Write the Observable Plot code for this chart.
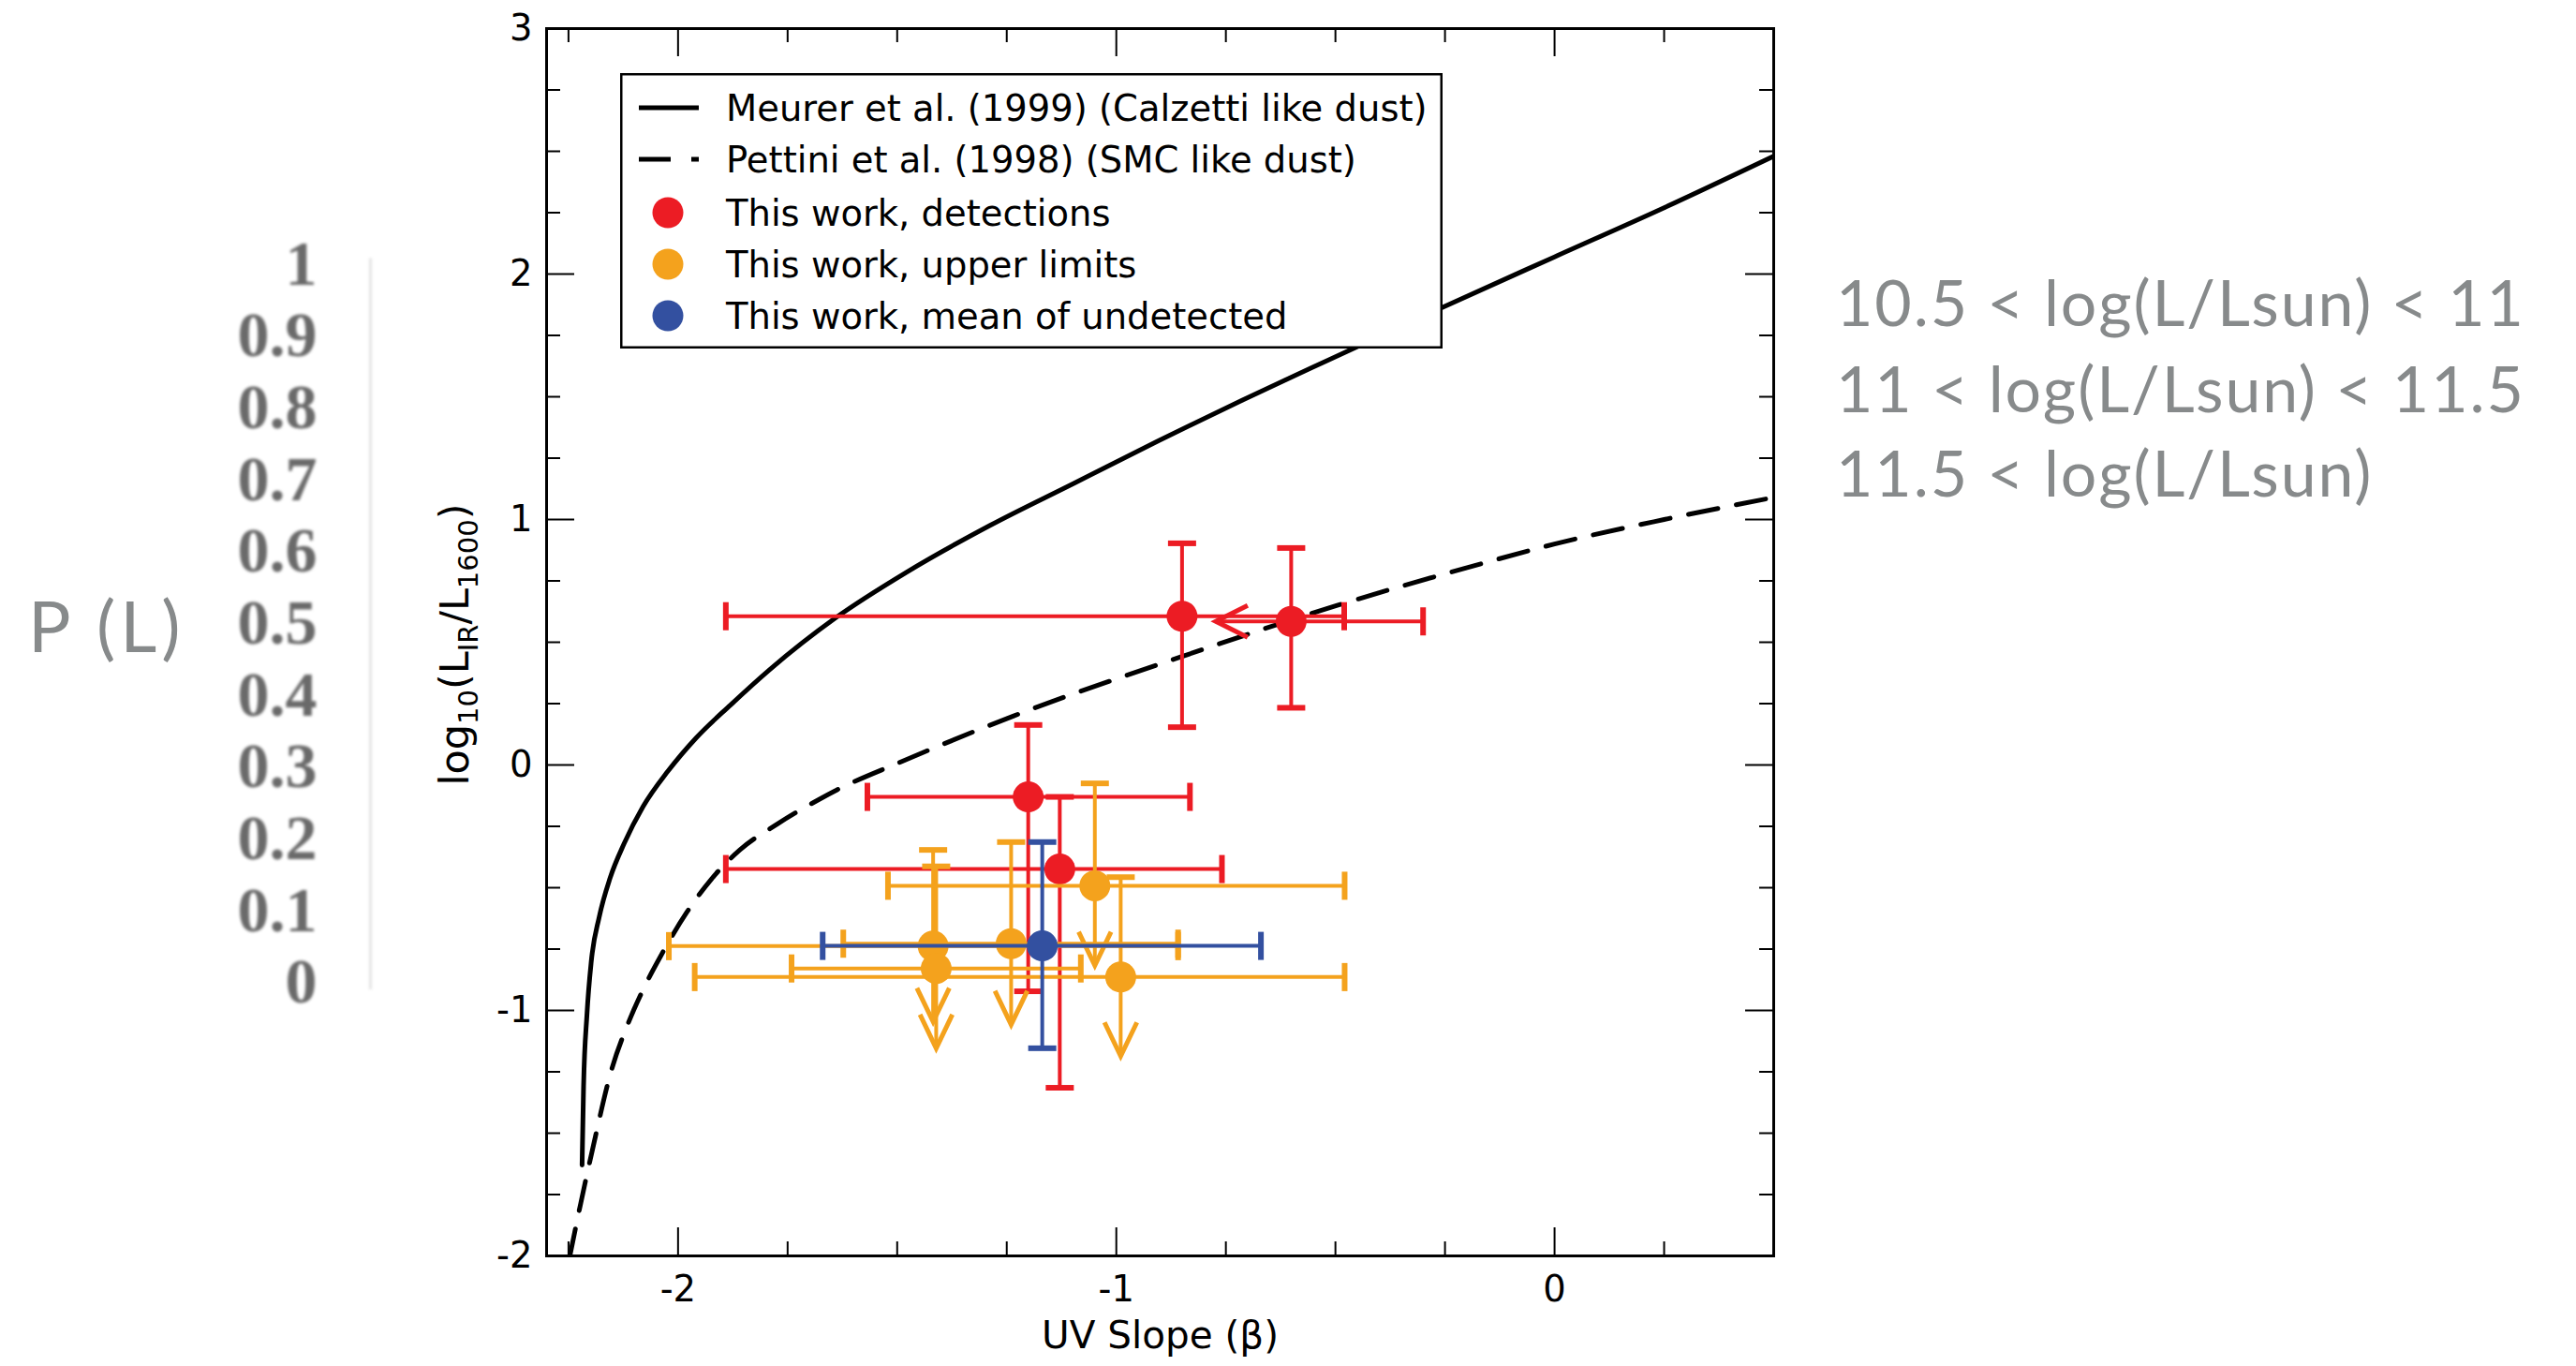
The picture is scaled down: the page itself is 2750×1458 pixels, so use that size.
<!DOCTYPE html>
<html>
<head>
<meta charset="utf-8">
<script src="https://cdn.jsdelivr.net/npm/d3@7"></script>
<script src="https://cdn.jsdelivr.net/npm/@observablehq/plot@0.6"></script>
<style>
  html, body { margin: 0; padding: 0; background: #fff; }
  #page { position: relative; width: 2750px; height: 1458px; overflow: hidden; background: #fff; }
  #page > svg { position: absolute; }
</style>
</head>
<body>
<div id="page"></div>
<script>
// ---------------- data ----------------
// Meurer et al. (1999) curve (beta, log10 LIR/L1600)
const meurerBeta = [-2.219, -2.2156, -2.208, -2.198, -2.180, -2.155, -2.123, -2.080, -2.023, -1.959, -1.88, -1.79, -1.64, -1.478, -1.287, -1.095, -0.904, -0.713, -0.552, -0.26, 0.0, 0.25, 0.5];
const meurerIRX  = [-1.63, -1.31, -1.02, -0.80, -0.62, -0.46, -0.32, -0.17, -0.025, 0.11, 0.245, 0.39, 0.60, 0.786, 0.977, 1.149, 1.321, 1.486, 1.62, 1.861, 2.07, 2.27, 2.48];
// Pettini et al. (1998) curve
const pettiniBeta = [-2.248, -2.222, -2.196, -2.151, -2.116, -2.080, -2.037, -1.98, -1.923, -1.859, -1.773, -1.68, -1.637, -1.495, -1.234, -0.853, -0.496, -0.167, 0.0, 0.25, 0.5];
const pettiniIRX  = [-2.01, -1.785, -1.573, -1.237, -1.062, -0.916, -0.770, -0.60, -0.463, -0.346, -0.24, -0.142, -0.101, 0.01, 0.20, 0.44, 0.65, 0.82, 0.90, 1.00, 1.09];

// This work, detections
const detBeta   = [-0.850, -0.601, -1.201, -1.129];
const detIRX    = [0.606, 0.585, -0.130, -0.424];
const detBetaLo = [-1.891, -0.773, -1.568, -1.891];
const detBetaHi = [-0.480, -0.300, -0.832, -0.759];
const detIRXLo  = [0.154, 0.233, -0.922, -1.315];
const detIRXHi  = [0.903, 0.884, 0.163, -0.130];
const detBetaLoIsLimit = [false, true, false, false];

// This work, upper limits
const ulBeta   = [-1.049, -0.990, -1.418, -1.411, -1.240];
const ulIRX    = [-0.492, -0.864, -0.738, -0.829, -0.728];
const ulBetaLo = [-1.521, -1.962, -2.021, -1.741, -1.623];
const ulBetaHi = [-0.479, -0.479, -0.859, -1.081, -0.859];
const ulIRXHi  = [-0.075, -0.457, -0.346, -0.413, -0.314];
const ulArrow  = [-0.817, -1.186, -1.046, -1.154, -1.058];

// This work, mean of undetected
const mnBeta = [-1.169];
const mnIRX = [-0.737];
const mnBetaLo = [-1.670];
const mnBetaHi = [-0.670];
const mnIRXLo = [-1.154];
const mnIRXHi = [-0.314];

// ticks
const xMajor = [-2, -1, 0];
const xMinor = [-2.25, -1.75, -1.5, -1.25, -0.75, -0.5, -0.25, 0.25];
const yMajor = [-2, -1, 0, 1, 2, 3];
const yMinor = [-1.75, -1.5, -1.25, -0.75, -0.5, -0.25, 0.25, 0.5, 0.75, 1.25, 1.5, 1.75, 2.25, 2.5, 2.75];
const pTicks = [0, 0.1, 0.2, 0.3, 0.4, 0.5, 0.6, 0.7, 0.8, 0.9, 1];

const xTitle = "UV Slope (β)";
const legendLabels = [
  "Meurer et al. (1999) (Calzetti like dust)",
  "Pettini et al. (1998) (SMC like dust)",
  "This work, detections",
  "This work, upper limits",
  "This work, mean of undetected"
];
const legendKinds = ["solid", "dashed", "dot", "dot", "dot"];
const pLabel = "P (L)";
const rightLabels = ["10.5 < log(L/Lsun) < 11", "11 < log(L/Lsun) < 11.5", "11.5 < log(L/Lsun)"];

// ---------------- styles ----------------
const RED = "#ec1c24", ORANGE = "#f4a21d", BLUE = "#3350a0";
const legendColors = ["#000", "#000", RED, ORANGE, BLUE];
const FONT = "'DejaVu Sans', 'Liberation Sans', sans-serif";
const FS = 38.5;
const GRAY = "#878a8b";

const W = 2750, H = 1458;
const mL = 583, mR = W - 1893, mT = 30, mB = H - 1340;
const frameW = W - mL - mR, frameH = H - mT - mB;

// custom symbols
const rad = size => Math.sqrt(size / Math.PI);
const capH = {draw(ctx, size) { const r = rad(size); ctx.moveTo(-r, 0); ctx.lineTo(r, 0); }};
const capV = {draw(ctx, size) { const r = rad(size); ctx.moveTo(0, -r); ctx.lineTo(0, r); }};
const arrowDown = {draw(ctx, size) { const r = rad(size); ctx.moveTo(-0.48 * r, -r); ctx.lineTo(0, 0); ctx.lineTo(0.48 * r, -r); }};
const arrowLeft = {draw(ctx, size) { const r = rad(size); ctx.moveTo(r, -0.5 * r); ctx.lineTo(0, 0); ctx.lineTo(r, 0.5 * r); }};

// tables
const meurer = meurerBeta.map((b, i) => ({b, v: meurerIRX[i]}));
const pettini = pettiniBeta.map((b, i) => ({b, v: pettiniIRX[i]}));
const det = detBeta.map((b, i) => ({b, v: detIRX[i], bLo: detBetaLo[i], bHi: detBetaHi[i], vLo: detIRXLo[i], vHi: detIRXHi[i], lim: detBetaLoIsLimit[i]}));
const ul = ulBeta.map((b, i) => ({b, v: ulIRX[i], bLo: ulBetaLo[i], bHi: ulBetaHi[i], vHi: ulIRXHi[i], tip: ulArrow[i]}));
const mn = mnBeta.map((b, i) => ({b, v: mnIRX[i], bLo: mnBetaLo[i], bHi: mnBetaHi[i], vLo: mnIRXLo[i], vHi: mnIRXHi[i]}));

const BAR = 4, CAP = 6, CAPR = 15, DOTR = 16.5;
const fmt = d => d < 0 ? "-" + (-d) : String(d);

function errGroup(data, color, opts) {
  const marks = [];
  if (opts.vertLo) marks.push(Plot.ruleX(data, {x: "b", y1: opts.vertLo, y2: "vHi", stroke: color, strokeWidth: BAR}));
  marks.push(Plot.ruleY(data, {y: "v", x1: "bLo", x2: "bHi", stroke: color, strokeWidth: BAR}));
  marks.push(Plot.dot(data, {x: "b", y: "vHi", symbol: capH, r: CAPR, fill: "none", stroke: color, strokeWidth: CAP}));
  if (opts.capLo) marks.push(Plot.dot(data, {x: "b", y: "vLo", symbol: capH, r: CAPR, fill: "none", stroke: color, strokeWidth: CAP}));
  if (opts.arrow) marks.push(Plot.dot(data, {x: "b", y: "tip", symbol: arrowDown, r: 36, fill: "none", stroke: color, strokeWidth: 5}));
  const leftCaps = opts.limKey ? data.filter(d => !d[opts.limKey]) : data;
  marks.push(Plot.dot(leftCaps, {x: "bLo", y: "v", symbol: capV, r: CAPR, fill: "none", stroke: color, strokeWidth: CAP}));
  if (opts.limKey) marks.push(Plot.dot(data.filter(d => d[opts.limKey]), {x: "bLo", y: "v", symbol: arrowLeft, r: 34, fill: "none", stroke: color, strokeWidth: 5}));
  marks.push(Plot.dot(data, {x: "bHi", y: "v", symbol: capV, r: CAPR, fill: "none", stroke: color, strokeWidth: CAP}));
  marks.push(Plot.dot(data, {x: "b", y: "v", r: DOTR, fill: color, stroke: "none"}));
  return marks;
}

const main = Plot.plot({
  width: W, height: H,
  marginLeft: mL, marginRight: mR, marginTop: mT, marginBottom: mB,
  style: {fontFamily: FONT, fontSize: FS + "px", background: "#fff", color: "#000", overflow: "visible"},
  x: {domain: [-2.3, 0.5], ticks: xMajor, tickSize: 0, tickPadding: 21, tickFormat: fmt, label: null},
  y: {domain: [-2, 3], ticks: yMajor, tickSize: 0, tickPadding: 15, tickFormat: fmt, label: null},
  marks: [
    Plot.line(meurer, {x: "b", y: "v", stroke: "#000", strokeWidth: 5, curve: "monotone-x", clip: true}),
    Plot.line(pettini, {x: "b", y: "v", stroke: "#000", strokeWidth: 5, strokeDasharray: "32,20", curve: "monotone-x", clip: true}),
    // inward ticks on all four sides
    Plot.tickX(xMajor, {x: d => d, insetTop: frameH - 30, stroke: "#000", strokeWidth: 2}),
    Plot.tickX(xMinor, {x: d => d, insetTop: frameH - 15, stroke: "#000", strokeWidth: 2}),
    Plot.tickX(xMajor, {x: d => d, insetBottom: frameH - 30, stroke: "#000", strokeWidth: 2}),
    Plot.tickX(xMinor, {x: d => d, insetBottom: frameH - 15, stroke: "#000", strokeWidth: 2}),
    Plot.tickY(yMajor, {y: d => d, insetRight: frameW - 30, stroke: "#000", strokeWidth: 2}),
    Plot.tickY(yMinor, {y: d => d, insetRight: frameW - 15, stroke: "#000", strokeWidth: 2}),
    Plot.tickY(yMajor, {y: d => d, insetLeft: frameW - 30, stroke: "#000", strokeWidth: 2}),
    Plot.tickY(yMinor, {y: d => d, insetLeft: frameW - 15, stroke: "#000", strokeWidth: 2}),
    Plot.frame({stroke: "#000", strokeWidth: 3}),
    ...errGroup(det, RED, {vertLo: "vLo", capLo: true, limKey: "lim"}),
    ...errGroup(ul, ORANGE, {vertLo: "tip", arrow: true}),
    ...errGroup(mn, BLUE, {vertLo: "vLo", capLo: true}),
    Plot.text([xTitle], {text: d => d, frameAnchor: "bottom", dy: 86, lineAnchor: "middle", fontSize: 40.5, fill: "#000"})
  ]
});

const page = document.getElementById("page");
main.style.left = "0px"; main.style.top = "0px";
page.appendChild(main);

// y-axis title with subscripts
const ms = d3.select(main);
const YFS = 43;
const yt = ms.append("text")
  .attr("transform", "translate(500,688) rotate(-90)")
  .attr("text-anchor", "middle")
  .attr("font-family", FONT)
  .attr("font-size", YFS)
  .attr("fill", "#000");
const parts = [["log", 0], ["10", 1], ["(L", 0], ["IR", 1], ["/L", 0], ["1600", 1], [")", 0]];
let prevSub = 0;
for (const [t, sub] of parts) {
  const dy = sub && !prevSub ? 10 : (!sub && prevSub ? -10 : 0);
  yt.append("tspan").attr("dy", dy).attr("font-size", sub ? 29 : YFS).text(t);
  prevSub = sub;
}

// P(L) scale (separate Plot axis)
const pScale = Plot.plot({
  width: 420, height: H,
  marginLeft: 395, marginRight: 0, marginTop: 281.5, marginBottom: H - 1048,
  style: {fontFamily: "'Liberation Serif', 'DejaVu Serif', serif", fontWeight: "bold", fontSize: "68px", background: "transparent", color: "#6a6a6a", overflow: "visible", filter: "blur(1.6px)"},
  x: {domain: [0, 1], axis: null},
  y: {domain: [0, 1], ticks: pTicks, tickSize: 0, tickPadding: 57, tickFormat: d => String(d), label: null},
  marks: [
    Plot.ruleX([0], {stroke: "#e3e3e3", strokeWidth: 3, insetTop: -6, insetBottom: -8})
  ]
});
pScale.style.left = "0px"; pScale.style.top = "0px";
page.appendChild(pScale);

// side texts
const side = d3.select(page).append("svg")
  .attr("width", W).attr("height", H)
  .style("left", "0px").style("top", "0px").style("pointer-events", "none");
side.append("text").attr("x", 30).attr("y", 696)
  .attr("font-family", "Lato, 'Open Sans', sans-serif").attr("font-size", 76).attr("letter-spacing", 5)
  .attr("fill", GRAY).text(pLabel);
side.selectAll("text.r").data(rightLabels).join("text").attr("class", "r")
  .attr("x", 1960).attr("y", (d, i) => [348, 440, 530][i])
  .attr("font-family", "Lato, 'Open Sans', sans-serif").attr("font-size", 68).attr("letter-spacing", 1.9)
  .attr("fill", GRAY).text(d => d);

// legend
const lg = d3.select(page).append("svg")
  .attr("width", 878).attr("height", 294)
  .style("left", "662px").style("top", "78px");
lg.append("rect").attr("x", 1.25).attr("y", 1.25).attr("width", 875.5).attr("height", 291.5)
  .attr("fill", "#fff").attr("stroke", "#000").attr("stroke-width", 2.5);
const rowY = [37, 92, 149, 204, 259];
legendLabels.forEach((lab, i) => {
  const kind = legendKinds[i];
  if (kind === "solid" || kind === "dashed") {
    lg.append("line").attr("x1", 20).attr("x2", 84).attr("y1", rowY[i]).attr("y2", rowY[i])
      .attr("stroke", legendColors[i]).attr("stroke-width", 5)
      .attr("stroke-dasharray", kind === "dashed" ? "34,22" : null);
  } else {
    lg.append("circle").attr("cx", 51).attr("cy", rowY[i]).attr("r", 16.5).attr("fill", legendColors[i]);
  }
  lg.append("text").attr("x", 113).attr("y", rowY[i]).attr("dy", "0.36em")
    .attr("font-family", FONT).attr("font-size", FS).attr("fill", "#000").text(lab);
});
</script>
</body>
</html>
